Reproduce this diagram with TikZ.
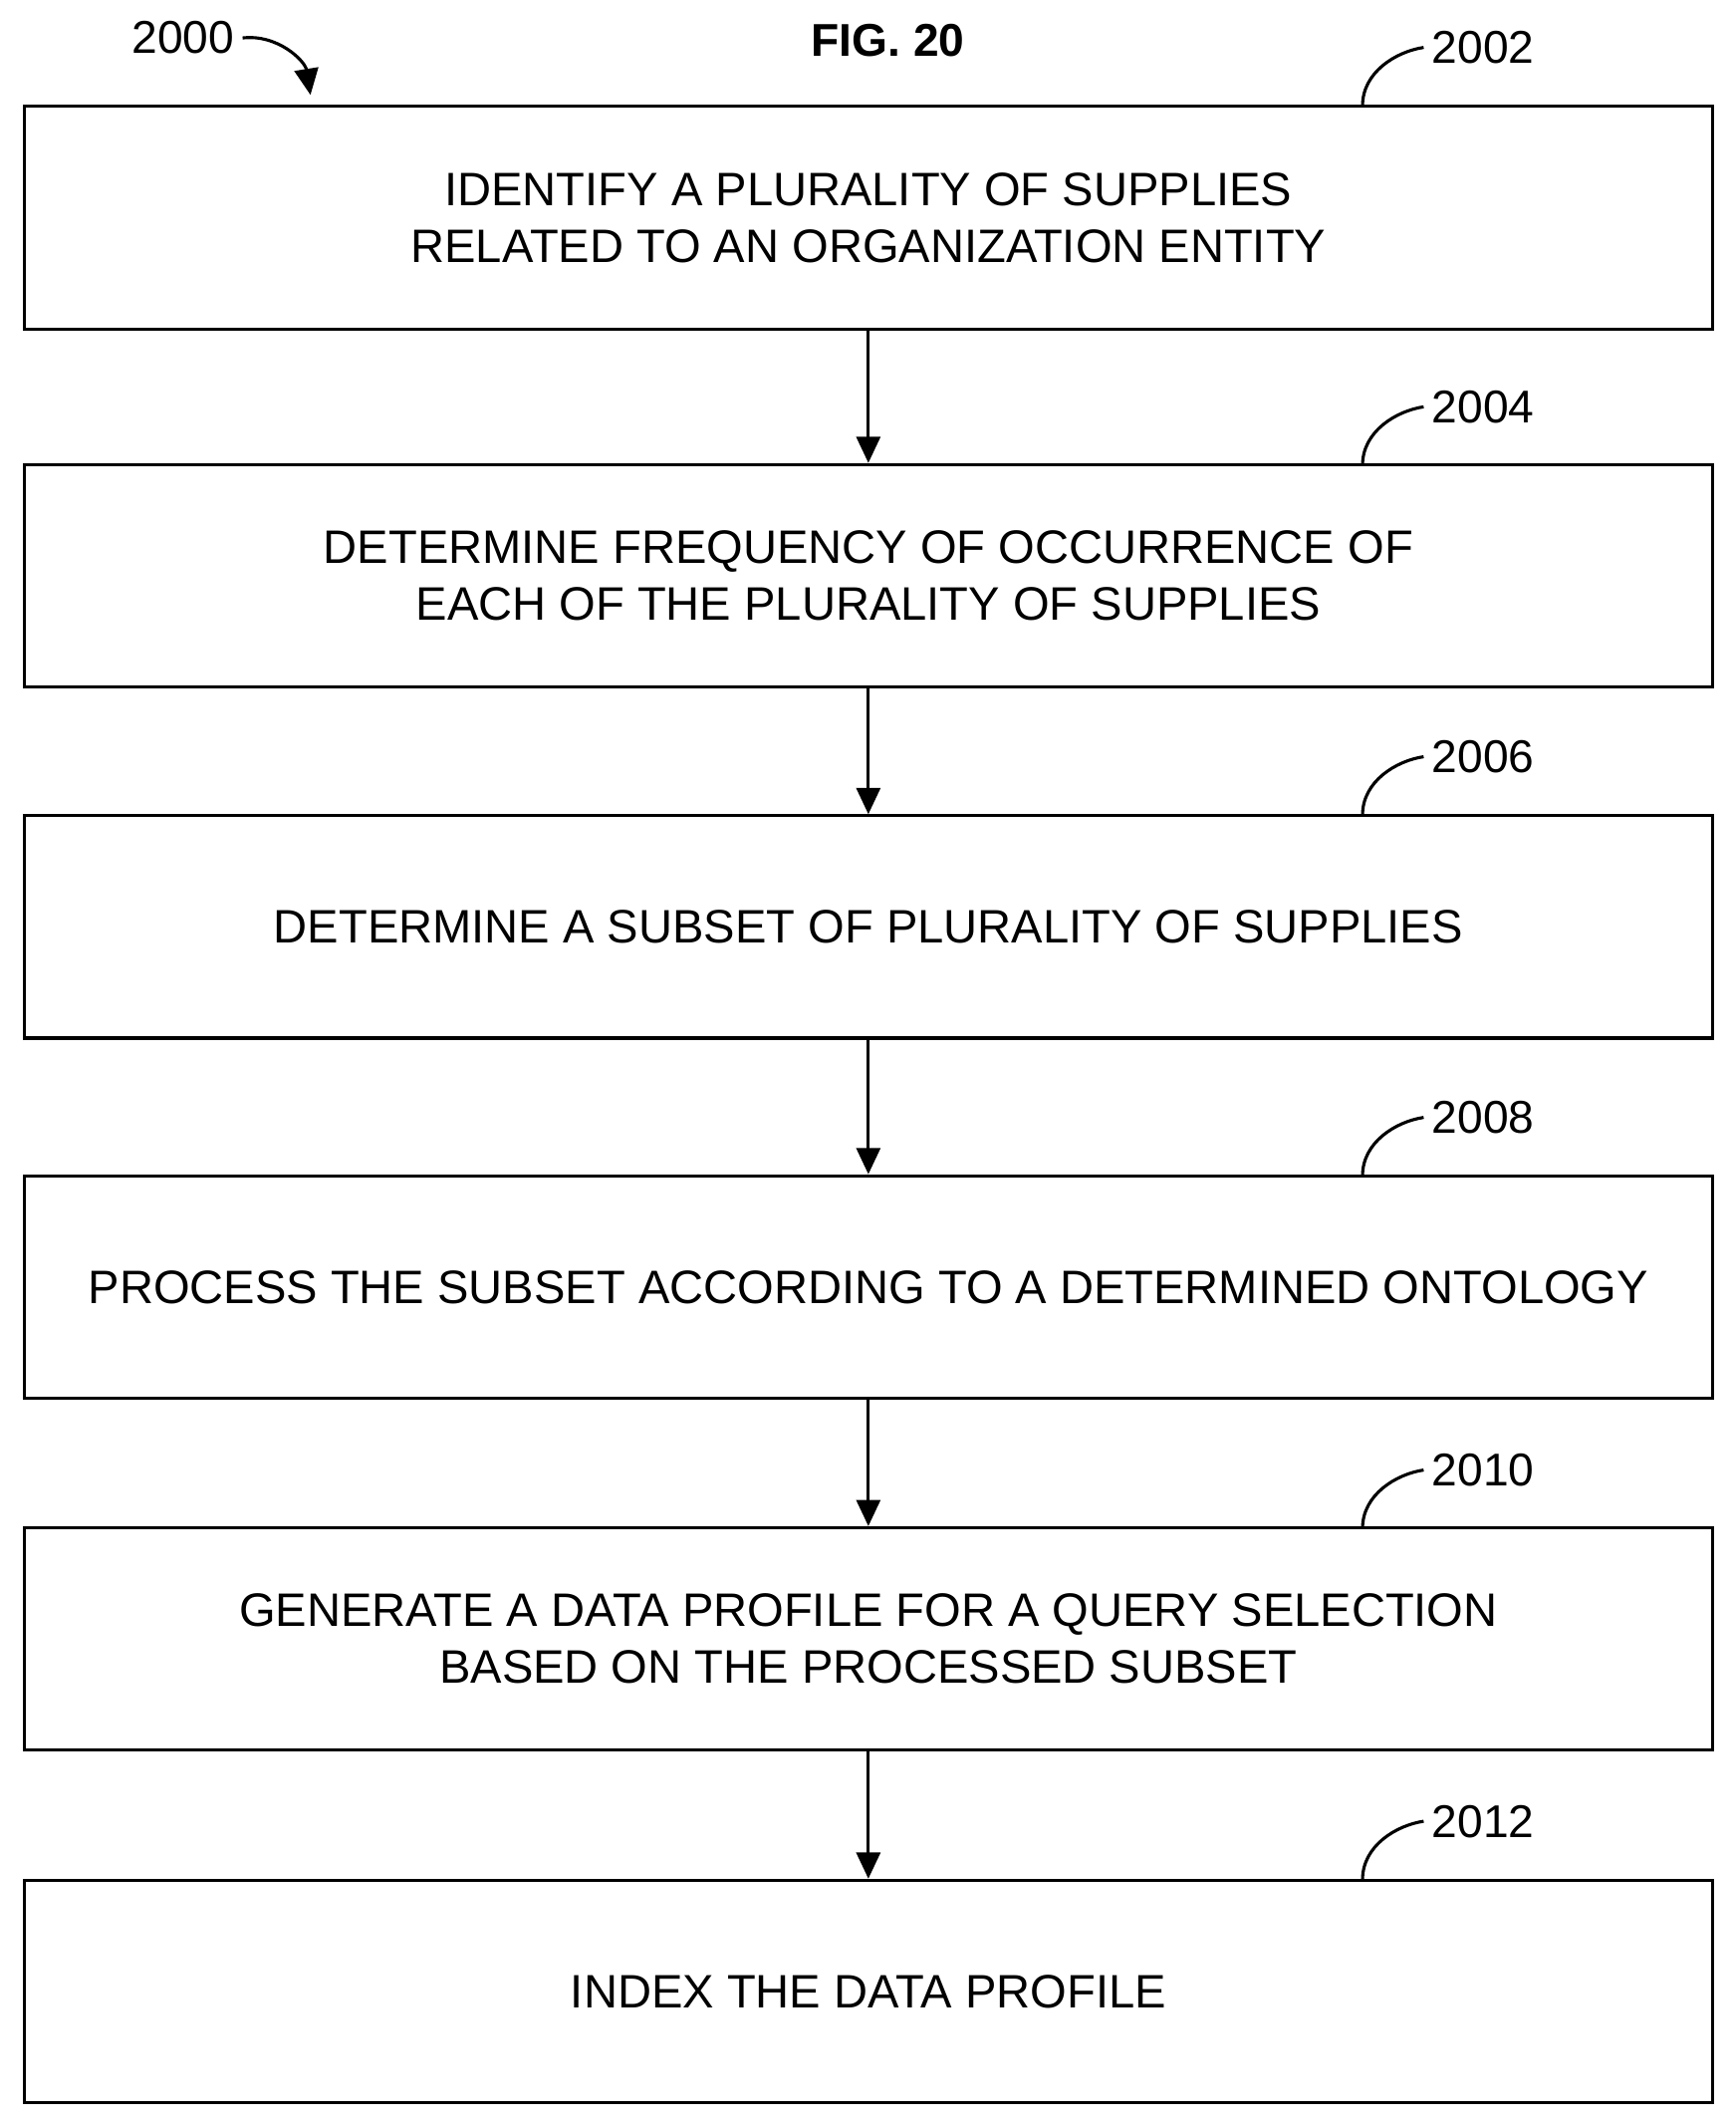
\documentclass[tikz,border=0pt]{standalone}
\usepackage{fontspec}
\setmainfont{Liberation Sans}
\usetikzlibrary{arrows.meta}
\tikzset{
  stepbox/.style={draw,line width=1.3pt,minimum width=24.9cm,minimum height=3.28cm,align=center,
    font=\fontsize{19.7}{23.8}\selectfont},
  reflabel/.style={font=\fontsize{19.3}{23}\selectfont},
  flow/.style={line width=1.3pt,-{Triangle[length=11pt,width=10pt]}}
}
\begin{document}
\begin{tikzpicture}[x=0.02cm,y=-0.02cm]
\useasboundingbox (0,0) rectangle (1280,1567);
\node[stepbox] (s1) at (640.5,160.5) {IDENTIFY A PLURALITY OF SUPPLIES\\RELATED TO AN ORGANIZATION ENTITY};
\node[stepbox] (s2) at (640.5,424.5) {DETERMINE FREQUENCY OF OCCURRENCE OF\\EACH OF THE PLURALITY OF SUPPLIES};
\node[stepbox] (s3) at (640.5,683.5) {DETERMINE A SUBSET OF PLURALITY OF SUPPLIES};
\node[stepbox] (s4) at (640.5,949) {PROCESS THE SUBSET ACCORDING TO A DETERMINED ONTOLOGY};
\node[stepbox] (s5) at (640.5,1208.5) {GENERATE A DATA PROFILE FOR A QUERY SELECTION\\BASED ON THE PROCESSED SUBSET};
\node[stepbox] (s6) at (640.5,1468.5) {INDEX THE DATA PROFILE};
% arrows between steps
\draw[flow] (s1) -- (s2);
\draw[flow] (s2) -- (s3);
\draw[flow] (s3) -- (s4);
\draw[flow] (s4) -- (s5);
\draw[flow] (s5) -- (s6);
% reference numerals
\foreach \n/\y/\t in {s1/78/2002,s2/343/2004,s3/601/2006,s4/867/2008,s5/1127/2010,s6/1386/2012}{
  \node[reflabel] (l\n) at (1094,\y-43) {\t};
  \draw[line width=1.3pt] (1005,\y) .. controls (1005,\y-25) and (1030,\y-40) .. (l\n.west);
}
\node[reflabel] (fig) at (655,30) {\textbf{FIG. 20}};
\node[reflabel] (lab) at (135,28) {2000};
\draw[line width=1.3pt,-{Triangle[length=11pt,width=10pt]}] (lab.east) .. controls (205,25) and (225,45) .. (229,70);
\end{tikzpicture}
\end{document}
